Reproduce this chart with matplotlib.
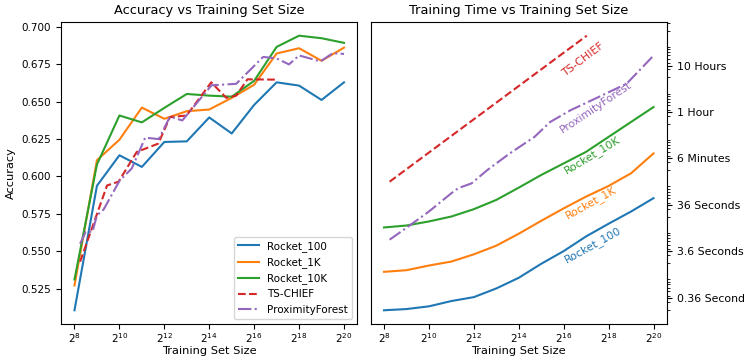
"""Accuracy and training time of the classifiers against training set size."""

import matplotlib

matplotlib.use("Agg")
from matplotlib import pyplot as plt

import numpy as np

# training set sizes as powers of two
rocket_exp = [8, 9, 10, 11, 12, 13, 14, 15, 16, 17, 18, 19, 20]

# accuracy per training set size
acc_rocket_100 = [0.5105, 0.5938, 0.6142, 0.6064, 0.6231, 0.6235, 0.6395,
                  0.6288, 0.6479, 0.6630, 0.6608, 0.6512, 0.6630]
acc_rocket_1k = [0.5271, 0.6109, 0.6246, 0.6461, 0.6386, 0.6437, 0.6448,
                 0.6526, 0.6614, 0.6823, 0.6858, 0.6774, 0.6862]
acc_rocket_10k = [0.5311, 0.6080, 0.6408, 0.6362, 0.6459, 0.6552, 0.6541,
                  0.6534, 0.6640, 0.6867, 0.6942, 0.6925, 0.6894]

chief_acc_exp = [8.25, 9.45, 9.96, 10.77, 11.73, 12.25, 12.99, 14.09, 14.76,
                 15.2, 15.7, 17.0]
acc_chief = [0.543, 0.594, 0.5965, 0.6164, 0.622, 0.6397, 0.6408, 0.663,
             0.6526, 0.6541, 0.665, 0.6648]

pf_acc_exp = [8.25, 8.5, 8.8, 9.0, 9.3, 10.0, 10.55, 11.15, 11.75, 12.25, 12.8,
              14.1, 15.2, 16.4, 17.0, 17.55, 18.0, 18.95, 19.5, 20.0]
acc_pf = [0.555, 0.563, 0.563, 0.574, 0.578, 0.597, 0.6054, 0.626, 0.625,
          0.640, 0.6375, 0.661, 0.662, 0.680, 0.679, 0.675, 0.681, 0.677,
          0.6825, 0.682]

# training time in seconds
time_rocket_100 = [0.195, 0.207, 0.237, 0.308, 0.374, 0.575, 0.975, 1.95,
                   3.66, 7.59, 14.2, 26.0, 50.4]
time_rocket_1k = [1.31, 1.42, 1.79, 2.18, 3.12, 4.79, 8.65, 16.4, 30.4, 54.5,
                  92.3, 173, 463]
time_rocket_10k = [11.8, 13.0, 15.9, 20.3, 29.2, 46.2, 84.9, 159, 282, 501,
                   1050, 2200, 4600]

chief_time_exp = [8.25, 10, 12, 14, 16, 17.03]
time_chief = [114, 483, 2512, 13060, 67900, 158000]

pf_time_exp = [8.25, 9.0, 10.0, 11.0, 11.3, 11.9, 12.6, 13.6, 14.7, 15.4, 16.3,
               17.5, 18.8, 20.0]
time_pf = [6.44, 11.6, 26.0, 64.4, 82.4, 105, 203, 463, 1050, 2200, 3920,
           7360, 14590, 58900]

time_ticks = [0.36, 3.6, 36, 360, 3600, 36000]
time_tick_labels = ["0.36 Seconds", "3.6 Seconds", "36 Seconds", "6 Minutes",
                    "1 Hour", "10 Hours"]

names = ["Rocket_100", "Rocket_1K", "Rocket_10K", "TS-CHIEF", "ProximityForest"]
colors = ["C0", "C1", "C2", "C3", "C4"]
styles = ["-", "-", "-", "--", "-."]

x_ticks = [2.0**e for e in range(8, 21, 2)]


def pow2(exps):
    return 2.0 ** np.asarray(exps)


fig, (ax_acc, ax_time) = plt.subplots(1, 2, figsize=(7.44, 3.6), dpi=100)
fig.subplots_adjust(left=0.082, right=0.8965, bottom=0.1, top=0.939,
                    wspace=0.044)

# accuracy panel
acc_series = [
    (rocket_exp, acc_rocket_100),
    (rocket_exp, acc_rocket_1k),
    (rocket_exp, acc_rocket_10k),
    (chief_acc_exp, acc_chief),
    (pf_acc_exp, acc_pf),
]
for (xs, ys), name, c, ls in zip(acc_series, names, colors, styles):
    ax_acc.plot(pow2(xs), ys, color=c, linestyle=ls, label=name)
ax_acc.set_xscale("log", base=2)
ax_acc.set_xticks(x_ticks)
ax_acc.set_title("Accuracy vs Training Set Size", fontsize=9.4)
ax_acc.set_xlabel("Training Set Size", fontsize=8.2, labelpad=1)
ax_acc.set_ylabel("Accuracy", fontsize=8.2)
ax_acc.tick_params(labelsize=7.5)
ax_acc.tick_params(axis="x", pad=1.5)
ax_acc.legend(loc="lower right", fontsize=7.5)

# training time panel
time_series = [
    (rocket_exp, time_rocket_100),
    (rocket_exp, time_rocket_1k),
    (rocket_exp, time_rocket_10k),
    (chief_time_exp, time_chief),
    (pf_time_exp, time_pf),
]
for (xs, ys), c, ls in zip(time_series, colors, styles):
    ax_time.plot(pow2(xs), ys, color=c, linestyle=ls)
ax_time.set_xscale("log", base=2)
ax_time.set_yscale("log")
ax_time.set_xticks(x_ticks)
ax_time.yaxis.tick_right()
ax_time.set_yticks(time_ticks)
ax_time.set_yticklabels(time_tick_labels)
ax_time.set_title("Training Time vs Training Set Size", fontsize=9.4)
ax_time.set_xlabel("Training Set Size", fontsize=8.2, labelpad=1)
ax_time.tick_params(labelsize=7.8)
ax_time.tick_params(axis="x", labelsize=7.5, pad=1.5)

# inline labels along each time curve
label_pos = [
    (17.28, 5.04, 29),
    (17.21, 41.3, 29),
    (17.28, 430, 31),
    (16.85, 48000, 37),
    (17.45, 4500, 34),
]
for (e, t, rot), name, c in zip(label_pos, names, colors):
    ax_time.text(2.0**e, t, name, color=c, fontsize=7.8, rotation=rot,
                 ha="center", va="center", rotation_mode="anchor")

fig.savefig("out.png")
